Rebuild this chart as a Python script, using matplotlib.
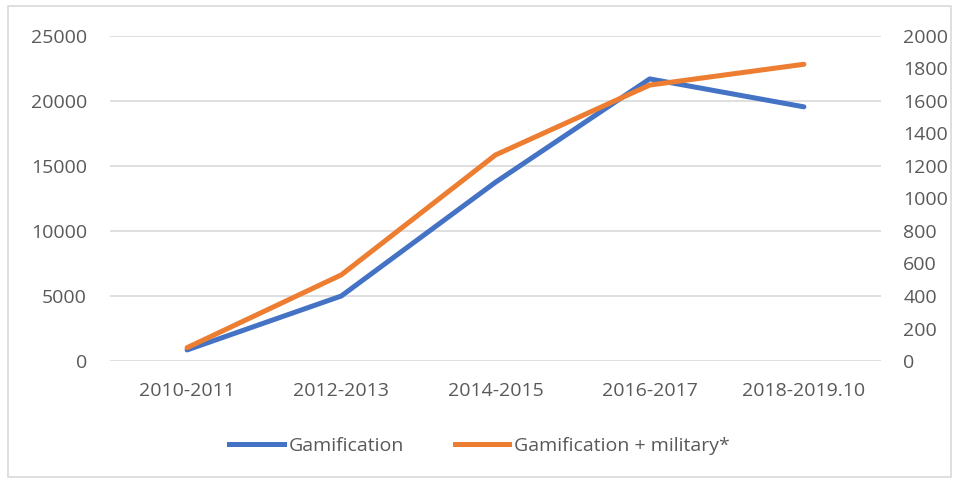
import matplotlib
matplotlib.use("Agg")
import matplotlib.pyplot as plt
from matplotlib.patches import Rectangle
from matplotlib.lines import Line2D

periods = ["2010-2011", "2012-2013", "2014-2015", "2016-2017", "2018-2019.10"]
gamification = [850, 5000, 13750, 21700, 19550]
gamification_military = [82, 530, 1268, 1698, 1826]
left_ticks = [0, 5000, 10000, 15000, 20000, 25000]
right_ticks = [0, 200, 400, 600, 800, 1000, 1200, 1400, 1600, 1800, 2000]

BLUE = "#4472C4"
ORANGE = "#ED7D31"
TEXT = "#595959"
GRID = "#D9D9D9"
FS = 14

plt.rcParams["font.family"] = ["Open Sans", "DejaVu Sans"]

fig = plt.figure(figsize=(9.59, 4.83), dpi=100)
fig.patches.append(Rectangle((8 / 959, 6 / 483), 943 / 959, 471 / 483,
                             transform=fig.transFigure, fill=False,
                             edgecolor="#D9D9D9", linewidth=1.2))

ax = fig.add_axes([110 / 959, 1 - 361 / 483, 771 / 959, 325 / 483])
ax2 = ax.twinx()

x = range(len(periods))
ax.plot(x, gamification, color=BLUE, linewidth=3.6, solid_capstyle="round",
        solid_joinstyle="round", zorder=3)
ax2.plot(x, gamification_military, color=ORANGE, linewidth=3.6,
         solid_capstyle="round", solid_joinstyle="round", zorder=3)

ax.set_xlim(-0.5, len(periods) - 0.5)
ax.set_ylim(0, 25000)
ax2.set_ylim(0, 2000)
ax.set_yticks(left_ticks)
ax2.set_yticks(right_ticks)
ax.set_xticks(list(x))
ax.set_xticklabels(periods)

for a in (ax, ax2):
    for s in a.spines.values():
        s.set_visible(False)
    a.tick_params(length=0, labelsize=FS, colors=TEXT)
ax.tick_params(axis="x", pad=15)
ax.tick_params(axis="y", pad=16.5)
ax2.tick_params(axis="y", pad=16)
ax.yaxis.grid(True, color=GRID, linewidth=1.2)
ax.set_axisbelow(True)

handles = [Line2D([], [], color=BLUE, linewidth=3.6),
           Line2D([], [], color=ORANGE, linewidth=3.6)]
fig.legend(handles, ["Gamification", "Gamification + military*"],
           loc="center", bbox_to_anchor=(0.5, 1 - 446 / 483), ncol=2,
           frameon=False, fontsize=FS, labelcolor=TEXT,
           handlelength=2.8, handletextpad=0.25, columnspacing=2.6)

fig.savefig("out.png", dpi=100)
